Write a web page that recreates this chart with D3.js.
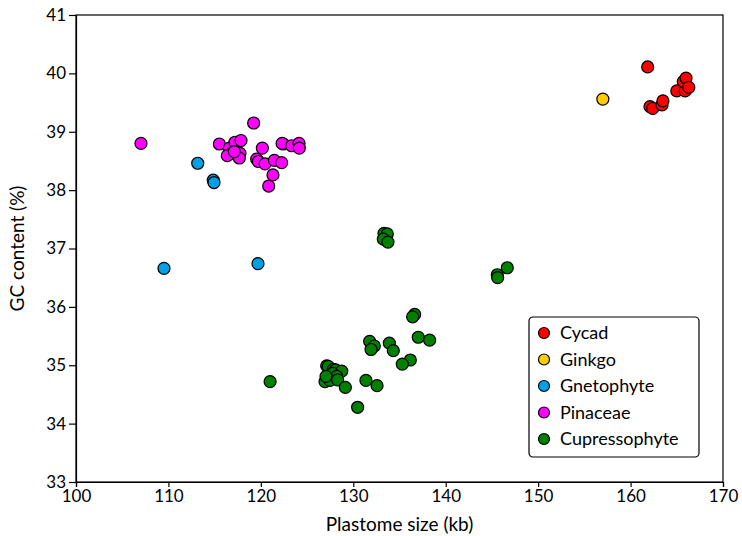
<!DOCTYPE html>
<html lang="en">
<head>
    <meta charset="UTF-8">
    <title>Plastome size vs GC content</title>
    <script src="https://d3js.org/d3.v7.min.js"></script>
    <style>
        body { margin: 0; background: #fff; font-family: 'Lato', sans-serif; }
        .tick text { font: 17px 'Lato', sans-serif; fill: #000; }
        .axis-title { font: 19px 'Lato', sans-serif; fill: #000; }
        .legend-label { font: 18px 'Lato', sans-serif; fill: #000; }
        .dot { stroke: #000; stroke-width: 1.2px; }
    </style>
</head>
<body>
    <div id="chart"></div>
    <script>
        // values (kb, %)
        const cycadSize = [161.85, 162.1, 162.4, 163.4, 163.5, 165.0, 165.9, 165.7, 166.0, 166.3];
        const cycadGC   = [40.11, 39.43, 39.40, 39.46, 39.53, 39.70, 39.70, 39.86, 39.92, 39.76];

        const ginkgoSize = [157.0];
        const ginkgoGC   = [39.56];

        const gnetoSize = [113.17, 114.85, 114.93, 109.52, 119.69];
        const gnetoGC   = [38.46, 38.17, 38.13, 36.66, 36.74];

        const pinaceaeSize = [107.03, 119.22, 115.51, 116.59, 117.2, 117.85, 116.84, 116.37, 117.74, 117.67,
                              117.13, 120.16, 119.55, 119.73, 120.45, 121.46, 122.25, 121.31, 120.85, 122.43,
                              122.3, 123.34, 124.13, 124.16];
        const pinaceaeGC   = [38.80, 39.15, 38.79, 38.72, 38.82, 38.85, 38.63, 38.59, 38.63, 38.55,
                              38.66, 38.72, 38.53, 38.49, 38.45, 38.51, 38.47, 38.26, 38.07, 38.79,
                              38.80, 38.76, 38.80, 38.72];

        const cupressSize = [133.32, 133.68, 133.25, 133.75, 146.66, 145.58, 145.62, 136.64, 136.42, 137.03,
                             138.26, 131.77, 132.27, 131.92, 133.9, 134.33, 136.17, 135.30, 131.37, 132.57,
                             130.47, 127.12, 127.29, 127.84, 128.1, 128.75, 127.77, 128.2, 126.94, 127.48,
                             128.31, 129.14, 127.05, 121.0];
        const cupressGC   = [37.26, 37.25, 37.16, 37.11, 36.67, 36.55, 36.50, 35.87, 35.83, 35.48,
                             35.43, 35.41, 35.33, 35.27, 35.38, 35.25, 35.09, 35.02, 34.74, 34.65,
                             34.28, 34.99, 34.98, 34.93, 34.92, 34.90, 34.86, 34.81, 34.72, 34.74,
                             34.75, 34.62, 34.81, 34.72];

        const groupNames  = ["Cycad", "Ginkgo", "Gnetophyte", "Pinaceae", "Cupressophyte"];
        const groupColors = ["#ff0000", "#ffcc00", "#00a0e6", "#ff00ff", "#008000"];
        const groupSizes  = [cycadSize, ginkgoSize, gnetoSize, pinaceaeSize, cupressSize];
        const groupGCs    = [cycadGC, ginkgoGC, gnetoGC, pinaceaeGC, cupressGC];

        const xTicks = [100, 110, 120, 130, 140, 150, 160, 170];
        const yTicks = [33, 34, 35, 36, 37, 38, 39, 40, 41];

        const W = 742, H = 536;
        const margin = {top: 15, right: 19, bottom: 54, left: 76};
        const width = W - margin.left - margin.right,
              height = H - margin.top - margin.bottom;

        const svg = d3.select("#chart").append("svg")
            .attr("width", W)
            .attr("height", H);

        const g = svg.append("g")
            .attr("transform", `translate(${margin.left},${margin.top})`);

        const x = d3.scaleLinear().domain([100, 170]).range([0, width]);
        const y = d3.scaleLinear().domain([33, 41]).range([height, 0]);

        // frame
        g.append("rect")
            .attr("width", width).attr("height", height)
            .attr("fill", "none").attr("stroke", "#000").attr("stroke-width", 1.2);

        const xAxis = g.append("g")
            .attr("transform", `translate(0,${height})`)
            .call(d3.axisBottom(x).tickValues(xTicks).tickSize(5).tickPadding(3).tickFormat(d3.format("d")));
        const yAxis = g.append("g")
            .call(d3.axisLeft(y).tickValues(yTicks).tickSize(7).tickPadding(3).tickFormat(d3.format("d")));
        [xAxis, yAxis].forEach(a => {
            a.select(".domain").attr("stroke", "#000").attr("stroke-width", 1.2);
            a.selectAll(".tick line").attr("stroke", "#000").attr("stroke-width", 1.2);
        });

        g.append("text").attr("class", "axis-title")
            .attr("x", width / 2).attr("y", height + 49)
            .attr("text-anchor", "middle")
            .text("Plastome size (kb)");

        g.append("text").attr("class", "axis-title")
            .attr("transform", `translate(${-52},${height / 2}) rotate(-90)`)
            .attr("text-anchor", "middle")
            .text("GC content (%)");

        // points
        groupNames.forEach((name, i) => {
            const pts = groupSizes[i].map((s, j) => ({s: s, gc: groupGCs[i][j]}));
            g.append("g").selectAll("circle")
                .data(pts)
                .enter()
                .append("circle")
                .attr("class", "dot")
                .attr("cx", d => x(d.s))
                .attr("cy", d => y(d.gc))
                .attr("r", 6)
                .attr("fill", groupColors[i]);
        });

        // legend
        const legend = svg.append("g").attr("transform", "translate(529,317)");
        legend.append("rect")
            .attr("width", 170).attr("height", 140)
            .attr("rx", 4).attr("ry", 4)
            .attr("fill", "#fff").attr("stroke", "#000").attr("stroke-width", 1.2);
        const item = legend.selectAll(".item")
            .data(groupNames)
            .enter()
            .append("g")
            .attr("class", "item")
            .attr("transform", (d, i) => `translate(15,${16 + i * 26.5})`);
        item.append("circle")
            .attr("class", "dot")
            .attr("r", 5.5)
            .attr("fill", (d, i) => groupColors[i]);
        item.append("text")
            .attr("class", "legend-label")
            .attr("x", 16).attr("dy", "0.35em")
            .text(d => d);
    </script>
</body>
</html>
